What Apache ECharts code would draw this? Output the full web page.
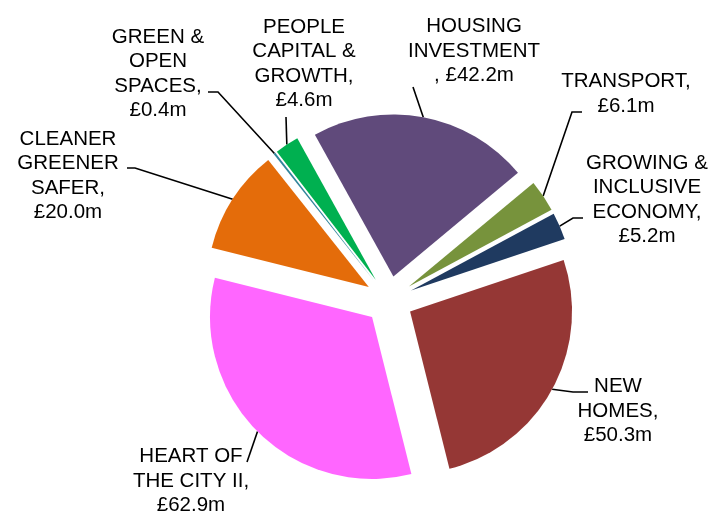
<!DOCTYPE html>
<html>
<head>
<meta charset="utf-8">
<script src="https://cdn.jsdelivr.net/npm/echarts@6/dist/echarts.min.js"></script>
<style>
  html, body { margin: 0; padding: 0; background: #fff; }
  #pie { width: 713px; height: 512px; }
</style>
</head>
<body>
<div id="pie"></div>
<script>
// data, in the order the slices run clockwise
var categories = ['HOUSING INVESTMENT', 'TRANSPORT', 'GROWING & INCLUSIVE ECONOMY', 'NEW HOMES',
    'HEART OF THE CITY II', 'CLEANER GREENER SAFER', 'GREEN & OPEN SPACES', 'PEOPLE CAPITAL & GROWTH'];
var values = [42.2, 6.1, 5.2, 50.3, 62.9, 20.0, 0.4, 4.6];
var colors = ['#604A7B', '#77933C', '#1F3A60', '#953735', '#FF66FF', '#E46C0A', '#31859C', '#00B050'];
// label text as wrapped in the original
var labelLines = [
    ['HOUSING', 'INVESTMENT', ', £{v}m'],
    ['TRANSPORT,', '£{v}m'],
    ['GROWING &', 'INCLUSIVE', 'ECONOMY,', '£{v}m'],
    ['NEW', 'HOMES,', '£{v}m'],
    ['HEART OF', 'THE CITY II,', '£{v}m'],
    ['CLEANER', 'GREENER', 'SAFER,', '£{v}m'],
    ['GREEN &', 'OPEN', 'SPACES,', '£{v}m'],
    ['PEOPLE', 'CAPITAL &', 'GROWTH,', '£{v}m']
];

// where each label sits (centre of text block) and the bend of its leader line
var labelPos = [[474, 51], [626, 94], [647, 200], [618, 411], [191, 481], [68, 176], [158, 74], [304, 64]];
var lineBend = [
    [[413, 87]],
    [[572, 112], [582, 112]],
    [[573, 218], [583, 218]],
    [[573, 392], [588, 392]],
    [[247, 462]],
    [[135, 168], [127, 168]],
    [[218, 92], [208, 92]],
    [[286, 117]]
];

var CENTER = [389, 300];
var R = 162;
var EXPLODE = 24;

var myChart = echarts.init(document.getElementById('pie'));

var pieData = categories.map(function (name, i) {
    return { name: name, value: values[i], selected: true, itemStyle: { color: colors[i] } };
});
// same slices, unexploded but with radius R + EXPLODE, only to carry the labels
var labelData = categories.map(function (name, i) {
    return { name: name, value: values[i] };
});

var option = {
    backgroundColor: '#fff',
    animation: false,
    series: [{
        type: 'pie',
        center: CENTER,
        radius: R,
        startAngle: 119,
        clockwise: true,
        selectedMode: 'multiple',
        selectedOffset: EXPLODE,
        data: pieData,
        itemStyle: { borderWidth: 0 },
        emphasis: { disabled: true },
        select: { itemStyle: { borderWidth: 0 } },
        label: { show: false },
        labelLine: { show: false }
    }, {
        type: 'pie',
        silent: true,
        center: CENTER,
        radius: R + EXPLODE,
        startAngle: 119,
        clockwise: true,
        avoidLabelOverlap: false,
        data: labelData,
        itemStyle: { color: 'rgba(0,0,0,0)', borderWidth: 0 },
        emphasis: { disabled: true },
        label: {
            show: true,
            position: 'outside',
            color: '#000',
            fontFamily: 'Liberation Sans, Arial',
            fontSize: 20.5,
            lineHeight: 24.5,
            align: 'center',
            formatter: function (p) {
                var v = values[p.dataIndex].toFixed(1);
                return labelLines[p.dataIndex].map(function (s) {
                    return s.replace('{v}', v);
                }).join('\n');
            }
        },
        labelLine: {
            show: true,
            lineStyle: { color: '#000', width: 1.6 }
        },
        labelLayout: function (params) {
            var i = params.dataIndex;
            var pts = [params.labelLinePoints[0]].concat(lineBend[i]);
            if (pts.length < 3) pts.push(pts[pts.length - 1]);
            return {
                x: labelPos[i][0],
                y: labelPos[i][1],
                align: 'center',
                verticalAlign: 'middle',
                hideOverlap: false,
                labelLinePoints: pts
            };
        }
    }]
};

myChart.setOption(option);
</script>
</body>
</html>
